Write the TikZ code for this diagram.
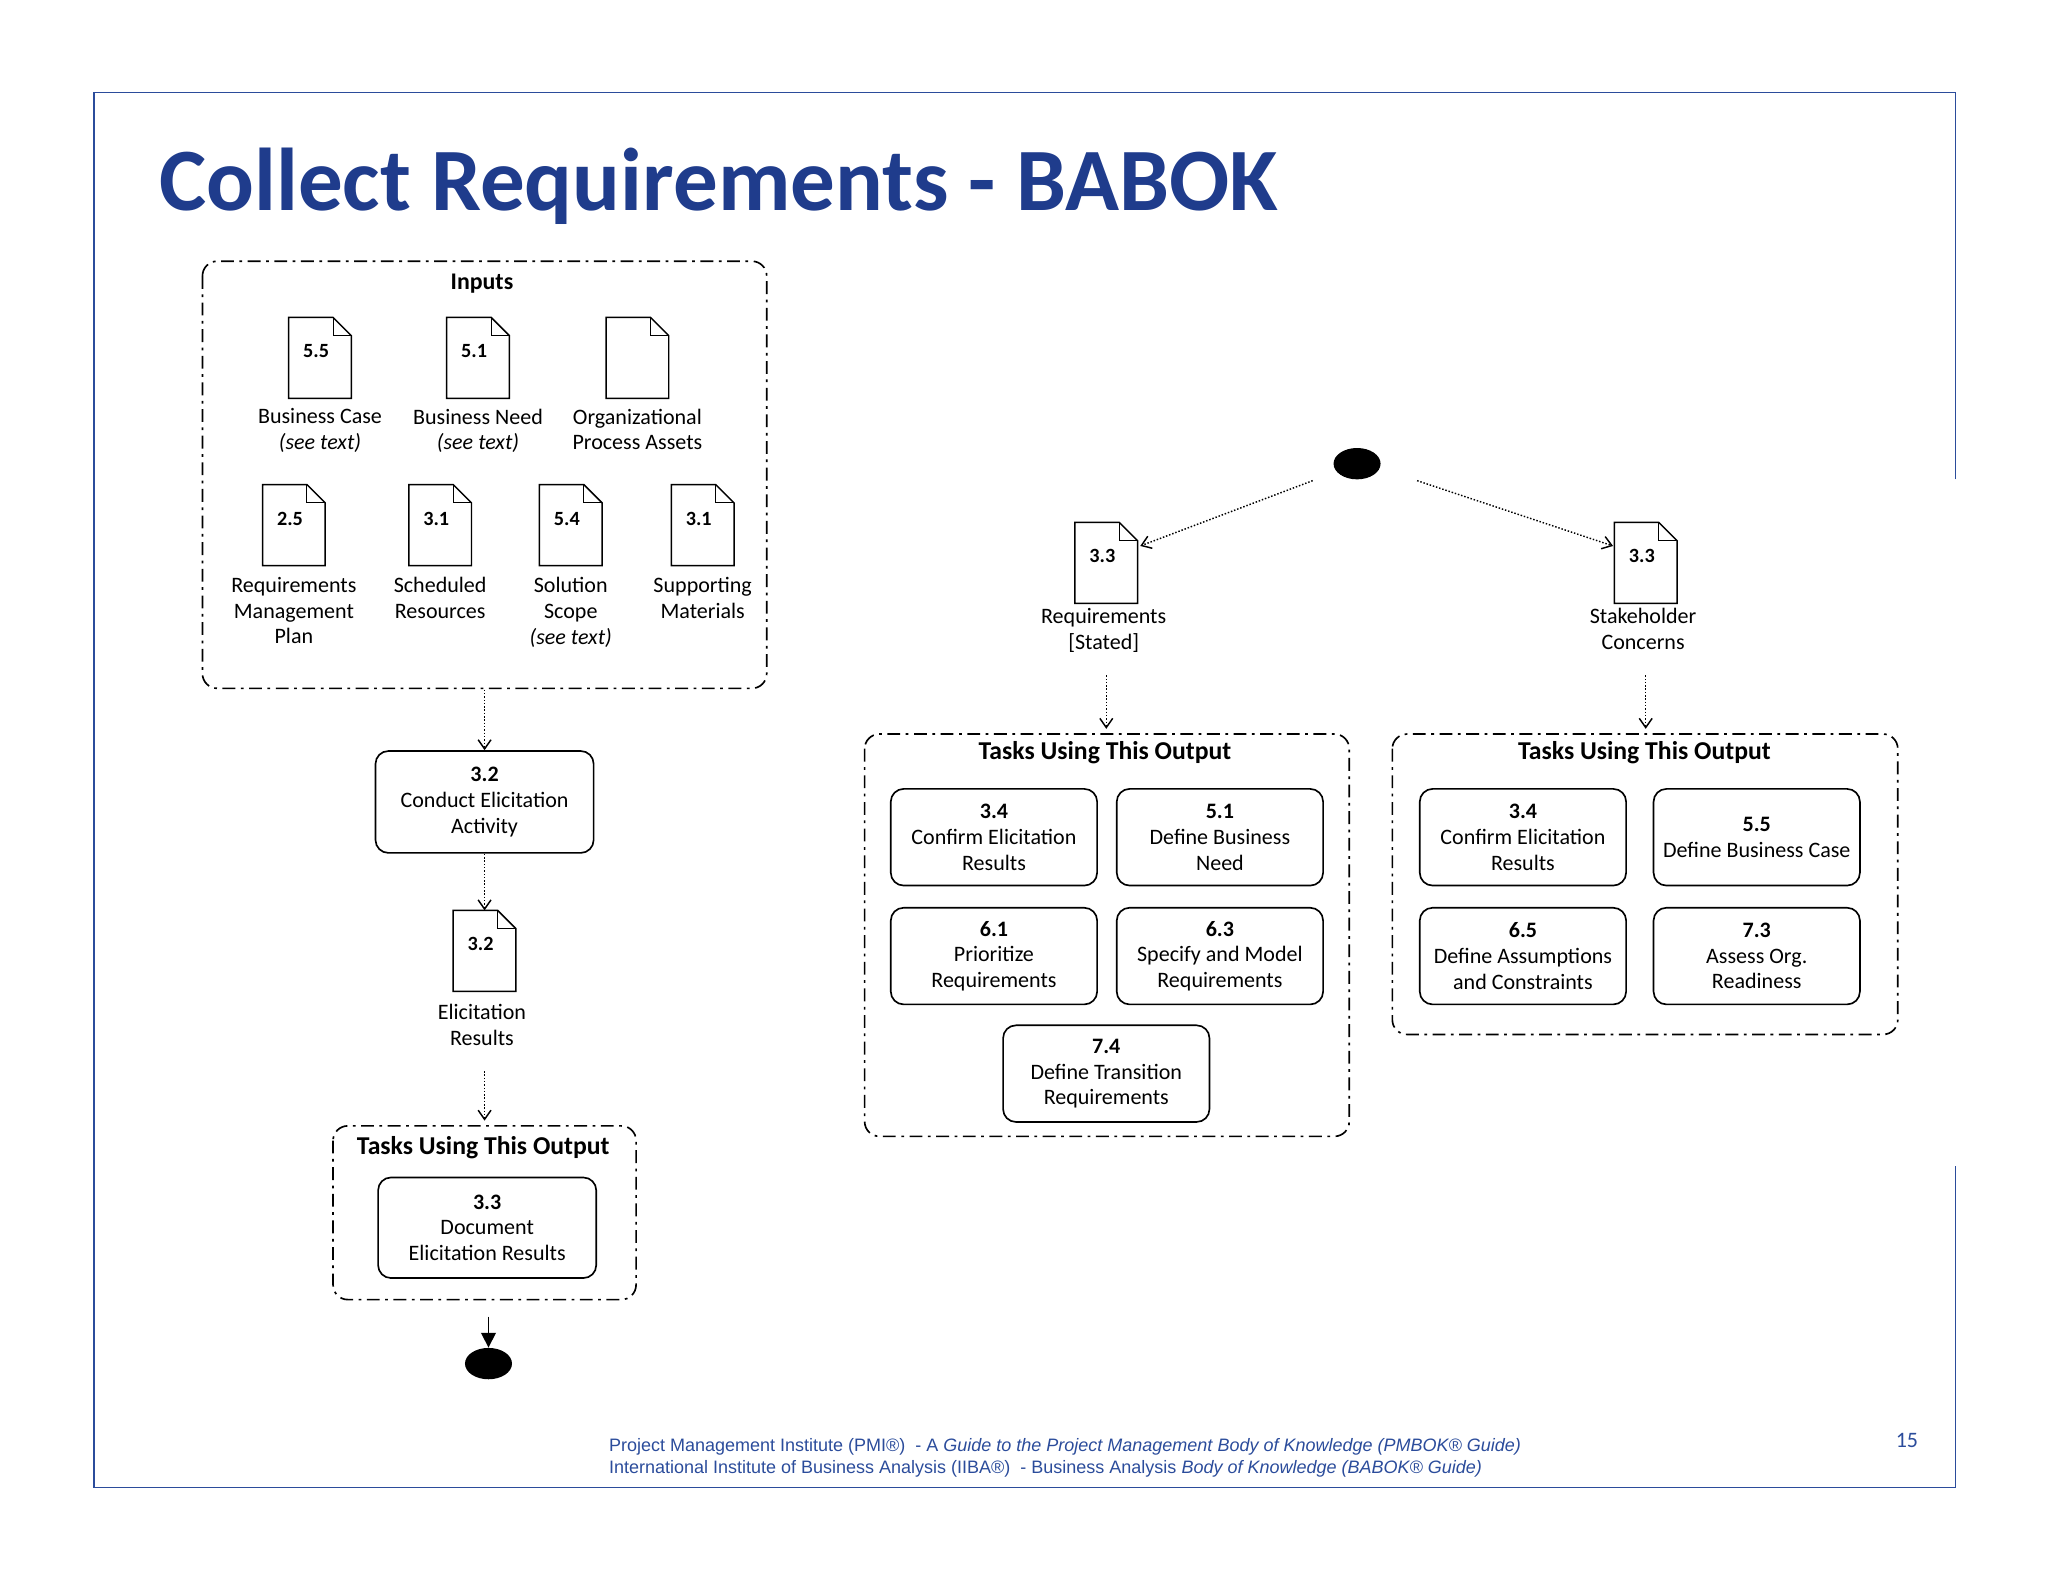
\documentclass[tikz,border=0pt]{standalone}
\usepackage{fontspec}
\setmainfont{Carlito}
\newfontfamily\footfont{Liberation Sans}
\usetikzlibrary{arrows.meta,shapes.geometric}
\definecolor{titleblue}{HTML}{1F3C8C}
\definecolor{footblue}{HTML}{2B4C9B}
\tikzset{
  dashdot/.style={line width=0.9pt, dash pattern=on 7pt off 3pt on 1.5pt off 3pt, rounded corners=8pt},
  task/.style={draw, line width=0.9pt, rounded corners=7pt, align=center, font=\fontsize{12}{14}\selectfont},
  lbl/.style={align=center, font=\fontsize{12}{14}\selectfont, anchor=north},
  flow/.style={densely dotted, line width=0.8pt, -{Straight Barb[length=5pt,width=7pt]}},
  blob/.style={ellipse, fill=black, minimum width=36*0.025cm, minimum height=24*0.025cm, inner sep=0},
}
% document icon: name, centre x, top y, number
\newcommand\babdoc[4]{%
  \draw[line width=0.8pt, fill=white] (#2-24,#3) -- (#2+10,#3) -- (#2+24,#3+14) -- (#2+24,#3+62) -- (#2-24,#3+62) -- cycle;
  \draw[line width=0.6pt] (#2+10,#3) -- (#2+10,#3+14) -- (#2+24,#3+14);
  \node[font=\fontsize{11}{12}\selectfont\bfseries] (#1) at (#2-3,#3+26) {#4};
  \coordinate (#1top) at (#2,#3);
  \coordinate (#1bot) at (#2,#3+62);
}
\begin{document}
\begin{tikzpicture}[x=0.025cm,y=-0.025cm]
\useasboundingbox (0,0) rectangle (1568,1211);
% frame
\draw[footblue, line width=0.8pt] (1497,367) -- (1497,71) -- (72,71) -- (72,1139) -- (1497,1139) -- (1497,893);
\node[anchor=base west, text=titleblue, font=\fontsize{48.5}{56}\selectfont\bfseries] (title) at (117,161) {Collect Requirements - BABOK};

% inputs
\draw[dashdot] (155,200) rectangle (587,527);
\node[font=\fontsize{13}{15}\selectfont\bfseries] (inputs) at (369,217) {Inputs};
\babdoc{d1}{245}{243}{5.5}
\babdoc{d2}{366}{243}{5.1}
\babdoc{d3}{488}{243}{}
\node[lbl] (l1) at (245,308) {Business Case\\\textit{(see text)}};
\node[lbl] (l2) at (366,308) {Business Need\\\textit{(see text)}};
\node[lbl] (l3) at (488,308) {Organizational\\Process Assets};
\babdoc{d4}{225}{371}{2.5}
\babdoc{d5}{337}{371}{3.1}
\babdoc{d6}{437}{371}{5.4}
\babdoc{d7}{538}{371}{3.1}
\node[lbl] (l4) at (225,437) {Requirements\\Management\\Plan};
\node[lbl] (l5) at (337,437) {Scheduled\\Resources};
\node[lbl] (l6) at (437,437) {Solution\\Scope\\\textit{(see text)}};
\node[lbl] (l7) at (538,437) {Supporting\\Materials};

\coordinate (inbot) at (371,528);
\node[task, minimum width=167*0.025cm, minimum height=78*0.025cm] (t32) at (371,614) {\textbf{3.2}\\Conduct Elicitation\\Activity};
\draw[flow] (inbot) -- (t32);
\babdoc{er}{371}{697}{3.2}
\draw[flow] (t32) -- (ertop);
\node[lbl] (erl) at (369,764) {Elicitation\\Results};
\draw[dashdot] (255,862) rectangle (487,995);
\node[font=\fontsize{14}{16}\selectfont\bfseries] (tu1) at (370,879) {Tasks Using This Output};
\coordinate (tb1) at (371,858);
\coordinate (ers) at (371,820);
\draw[flow] (ers) -- (tb1);
\node[task, minimum width=167*0.025cm, minimum height=77*0.025cm] (t33) at (373,940) {\textbf{3.3}\\Document\\Elicitation Results};
\node[blob] (endn) at (374,1044) {};
\coordinate (eb) at (374,1008);
\draw[line width=0.9pt, -{Triangle[length=8pt,width=8pt]}] (eb) -- (endn);

% right part
\node[blob] (start) at (1039,355) {};
\babdoc{rs}{847}{400}{3.3}
\babdoc{sc}{1260}{400}{3.3}
\coordinate (s1) at (1005,368); \coordinate (s1e) at (873,418);
\coordinate (s2) at (1085,368); \coordinate (s2e) at (1235,418);
\draw[flow] (s1) -- (s1e);
\draw[flow] (s2) -- (s2e);
\node[lbl] (rsl) at (845,461) {Requirements\\{[}Stated{]}};
\node[lbl] (scl) at (1258,461) {Stakeholder\\Concerns};
\coordinate (a1) at (847,517); \coordinate (a1e) at (847,558);
\coordinate (a2) at (1260,517); \coordinate (a2e) at (1260,558);
\draw[flow] (a1) -- (a1e);
\draw[flow] (a2) -- (a2e);

\draw[dashdot] (662,562) rectangle (1033,870);
\node[font=\fontsize{14}{16}\selectfont\bfseries] (tu2) at (846,576) {Tasks Using This Output};
\tikzset{tb/.style={task, minimum width=158*0.025cm, minimum height=74*0.025cm}}
\node[tb] (m1) at (761,641) {\textbf{3.4}\\Confirm Elicitation\\Results};
\node[tb] (m2) at (934,641) {\textbf{5.1}\\Define Business\\Need};
\node[tb] (m3) at (761,732) {\textbf{6.1}\\Prioritize\\Requirements};
\node[tb] (m4) at (934,732) {\textbf{6.3}\\Specify and Model\\Requirements};
\node[tb] (m5) at (847,822) {\textbf{7.4}\\Define Transition\\Requirements};

\draw[dashdot] (1066,562) rectangle (1453,792);
\node[font=\fontsize{14}{16}\selectfont\bfseries] (tu3) at (1259,576) {Tasks Using This Output};
\node[tb] (r1) at (1166,641) {\textbf{3.4}\\Confirm Elicitation\\Results};
\node[tb] (r2) at (1345,641) {\textbf{5.5}\\Define Business Case};
\node[tb] (r3) at (1166,732) {\textbf{6.5}\\Define Assumptions\\and Constraints};
\node[tb] (r4) at (1345,732) {\textbf{7.3}\\Assess Org.\\Readiness};

% footer
\node[anchor=north west, align=left, text=footblue, font=\footfont\fontsize{9.8}{11.8}\selectfont, inner sep=0] (foot) at (466,1101)
  {Project Management Institute (PMI\textregistered)\ \ - A \textit{Guide to the Project Management Body of Knowledge (PMBOK\textregistered\ Guide)}\\
   International Institute of Business Analysis (IIBA\textregistered)\ \ - Business Analysis \textit{Body of Knowledge (BABOK\textregistered\ Guide)}};
\node[text=footblue, font=\fontsize{12}{14}\selectfont] (pg) at (1460,1103) {15};
\end{tikzpicture}
\end{document}
